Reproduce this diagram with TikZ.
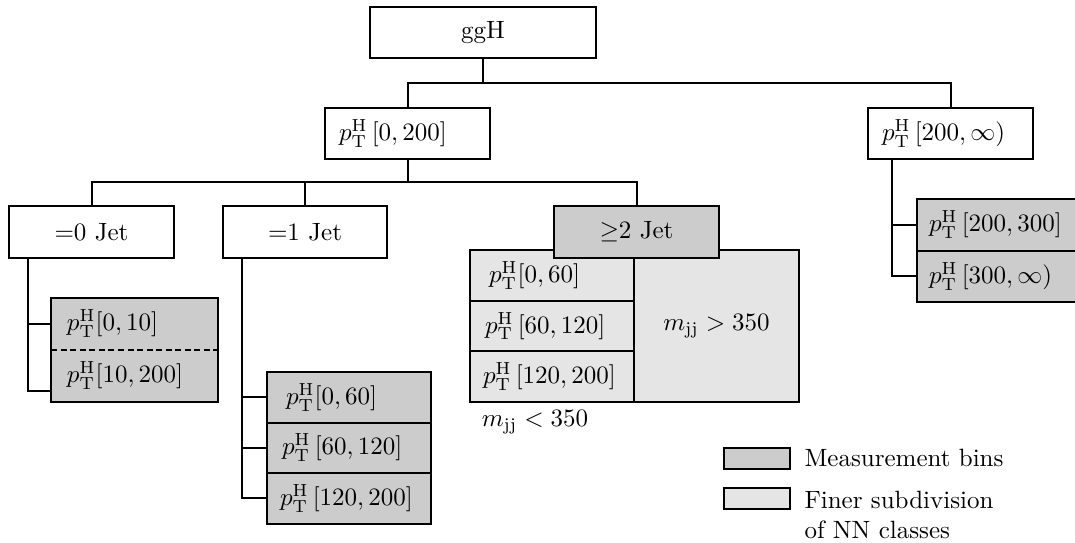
\documentclass[tikz,border=0pt]{standalone}
\usetikzlibrary{calc}
\newcommand\pTH{p_{\mathrm{T}}^{\mathrm{H}}}
\tikzset{
  bx/.style={draw, line width=0.8pt, inner sep=0pt, minimum width=66pt, minimum height=20.4pt},
  dk/.style={bx, fill=black!20},
  lt/.style={bx, fill=black!10},
  conn/.style={line width=0.8pt},
  lefttext/.style 2 args={inner xsep=#1, text width=#2, align=left},
}
\begin{document}
\begin{tikzpicture}[x=0.4pt, y=-0.4pt]
\useasboundingbox (0,0) rectangle (1075,542);
\clip (0,0) rectangle (1075,542);

% top level
\node[bx, minimum width=90.4pt] (ggH) at (483,32.5) {ggH};
\node[bx, lefttext={5.6pt}{54.8pt}] (p0200) at (407.5,133.5) {$\pTH\,[0,200]$};
\node[bx, lefttext={5.6pt}{54.8pt}] (p200inf) at (950.5,133.5) {$\pTH\,[200,\infty)$};

% jet categories
\node[bx, minimum height=20.8pt] (jet0) at (91.5,232) {=0 Jet};
\node[bx, minimum height=20.8pt, minimum width=65.6pt] (jet1) at (305,232) {=1 Jet};

% >=2 jet region
\node[lt, minimum width=65.6pt, minimum height=20.27pt, lefttext={7.6pt}{50.4pt}] (j2a) at (552,275.33) {$\pTH[0,60]$};
\node[lt, minimum width=65.6pt, minimum height=20.27pt, lefttext={6pt}{53.6pt}] (j2b) at (552,326) {$\pTH\,[60,120]$};
\node[lt, minimum width=65.6pt, minimum height=20.27pt, lefttext={5.2pt}{55.2pt}] (j2c) at (552,376.67) {$\pTH\,[120,200]$};
\node[lt, minimum height=60.8pt] (j2r) at (716.5,326) {$m_{\mathrm{jj}} > 350$};
\node (mlow) at (535,422) {$m_{\mathrm{jj}} < 350$};
\node[dk, minimum height=20.8pt] (jet2) at (636.5,232) {$\geq$2 Jet};

% =0 jet bins
\node[fill=black!20, inner ysep=0pt, minimum width=66pt, minimum height=20.6pt, lefttext={6pt}{54pt}] (j0a) at (134.5,323.75) {$\pTH[0,10]$};
\node[fill=black!20, inner ysep=0pt, minimum width=66pt, minimum height=20.6pt, lefttext={6pt}{54pt}] (j0b) at (134.5,375.25) {$\pTH[10,200]$};
\draw[conn] (j0a.north west) rectangle (j0b.south east);
\draw[conn, dash pattern=on 2.4pt off 1.4pt] (j0a.south west) -- (j0a.south east);

% =1 jet bins
\node[dk, minimum width=65.6pt, minimum height=20.2pt, lefttext={7.6pt}{50.4pt}] (j1a) at (349,397.25) {$\pTH[0,60]$};
\node[dk, minimum width=65.6pt, minimum height=20.2pt, lefttext={6pt}{53.6pt}] (j1b) at (349,447.75) {$\pTH\,[60,120]$};
\node[dk, minimum width=65.6pt, minimum height=20.2pt, lefttext={5.2pt}{55.2pt}] (j1c) at (349,498.25) {$\pTH\,[120,200]$};

% high pT bins
\node[dk, minimum height=20.6pt, lefttext={4.8pt}{56.4pt}] (r1) at (999.5,224.75) {$\pTH\,[200,300]$};
\node[dk, minimum height=20.6pt, lefttext={4.8pt}{56.4pt}] (r2) at (999.5,276.25) {$\pTH\,[300,\infty)$};

% connectors
\coordinate (bus1) at (0,83);
\coordinate (bus2) at (0,182);
\draw[conn] (ggH.south) -- (ggH.south |- bus1);
\draw[conn] (p0200.north) -- (p0200.north |- bus1) -- (p200inf.north |- bus1) -- (p200inf.north);
\draw[conn] (p0200.south) -- (p0200.south |- bus2);
\draw[conn] (jet0.north) -- (jet0.north |- bus2) -- (jet2.north |- bus2) -- (jet2.north);
\draw[conn] (jet1.north) -- (jet1.north |- bus2);

\coordinate (s0) at ($(jet0.south west)+(20,0)$);
\coordinate (t0b) at ($(j0b.west)+(0,16)$);
\draw[conn] (s0) -- (s0 |- t0b) -- (t0b);
\draw[conn] (s0 |- j0a.west) -- (j0a.west);

\coordinate (s1) at ($(jet1.south west)+(20,0)$);
\draw[conn] (s1) -- (s1 |- j1c.west) -- (j1c.west);
\draw[conn] (s1 |- j1a.west) -- (j1a.west);
\draw[conn] (s1 |- j1b.west) -- (j1b.west);

\coordinate (s2) at ($(p200inf.south west)+(25,0)$);
\draw[conn] (s2) -- (s2 |- r2.west) -- (r2.west);
\draw[conn] (s2 |- r1.west) -- (r1.west);

% legend
\node[dk, minimum width=26.4pt, minimum height=8.4pt] (leg1) at (757,458.5) {};
\node[lt, minimum width=26.4pt, minimum height=8.4pt] (leg2) at (757,498.5) {};
\node[anchor=base west, inner sep=0pt] (leg1t) at (804,466) {Measurement bins};
\node[anchor=north west, inner sep=0pt, align=left] (leg2t) at (804,491) {Finer subdivision\\of NN classes};
\end{tikzpicture}
\end{document}
